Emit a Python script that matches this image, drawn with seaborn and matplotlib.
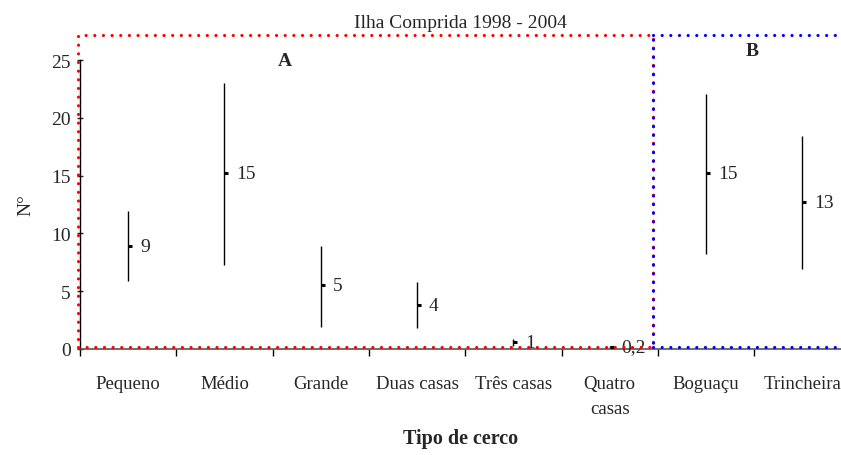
import matplotlib
matplotlib.use("Agg")
import matplotlib.pyplot as plt
import matplotlib.markers as mmarkers
import seaborn as sns
import pandas as pd

categories = ["Pequeno", "Médio", "Grande", "Duas casas", "Três casas", "Quatro\ncasas", "Boguaçu", "Trincheira"]
high = [11.9, 23.0, 8.9, 5.8, 0.9, 0.3, 22.1, 18.4]
low = [5.9, 7.3, 1.9, 1.8, 0.3, 0.1, 8.2, 6.9]
mean = [8.9, 15.2, 5.5, 3.8, 0.6, 0.2, 15.2, 12.7]
labels = ["9", "15", "5", "4", "1", "0,2", "15", "13"]

sns.set_style("white")
plt.rcParams["font.family"] = ["Liberation Serif", "DejaVu Serif"]

df = pd.DataFrame({"pos": range(len(categories)), "mean": mean, "high": high, "low": low})

fig = plt.figure(figsize=(8.41, 4.56), dpi=100)
ax = fig.add_axes([80 / 841, 1 - 350 / 456, 1 - 80 / 841, (350 - 61) / 456])

ax.vlines(df["pos"], df["low"], df["high"], color="black", lw=1.0)
sns.scatterplot(data=df, x="pos", y="mean", marker=mmarkers.TICKRIGHT, s=7,
                color="black", linewidth=2.2, ax=ax, legend=False, zorder=3)
for p, m, t in zip(df["pos"], mean, labels):
    ax.annotate(t, (p, m), xytext=(8.5, 0), textcoords="offset points",
                va="center", ha="left", fontsize=14)

ax.set_xlim(-0.5, -0.5 + 761 / 96.3)
ax.set_ylim(0, 25)
ax.set_xticks(range(len(categories)))
ax.set_xticklabels(categories, fontsize=13.5, linespacing=1.6)
ax.set_xticks([i - 0.5 for i in range(len(categories))], minor=True)
ax.tick_params(axis="x", which="major", length=0, pad=19)
ax.tick_params(axis="x", which="minor", length=5, width=1, direction="out", color="black", bottom=True)
ax.set_yticks([0, 5, 10, 15, 20, 25])
ax.tick_params(axis="y", which="major", length=5, width=1, direction="inout", left=True, labelsize=14, pad=4)

for s in ["top", "right"]:
    ax.spines[s].set_visible(False)
ax.spines["left"].set_color("black")
ax.spines["bottom"].set_color("#555555")
ax.spines["left"].set_linewidth(1)
ax.spines["bottom"].set_linewidth(1.2)

ax.set_ylabel("N°", fontsize=14, labelpad=12)
ax.set_xlabel("Tipo de cerco", fontsize=14.5, fontweight="bold", labelpad=8)
ax.set_title("Ilha Comprida 1998 - 2004", fontsize=14, pad=24)

dot = dict(linestyle=(0, (0.01, 2.7)), dash_capstyle="round", lw=2.3, clip_on=False, zorder=4)
y0, y1 = 0.2, 27.15
xa0, xa1 = -0.524, 5.453
ax.plot([xa0, xa1, xa1, xa0, xa0], [y0, y0, y1, y1, y0], color="#ff0000", **dot)
xb1 = 8.5
ax.plot([xa1, xb1], [y0, y0], color="#0000ff", **dot)
ax.plot([xa1, xb1], [y1, y1], color="#0000ff", **dot)
ax.plot([xa1, xa1], [y0, y1], color="#0000ff", linestyle=(1.35, (0.01, 2.7)),
        dash_capstyle="round", lw=2.3, clip_on=False, zorder=5)

ax.text(1.63, 25.0, "A", fontsize=14, fontweight="bold", ha="center", va="center")
ax.text(6.48, 25.8, "B", fontsize=14, fontweight="bold", ha="center", va="center")

fig.savefig("out.png", dpi=100)
